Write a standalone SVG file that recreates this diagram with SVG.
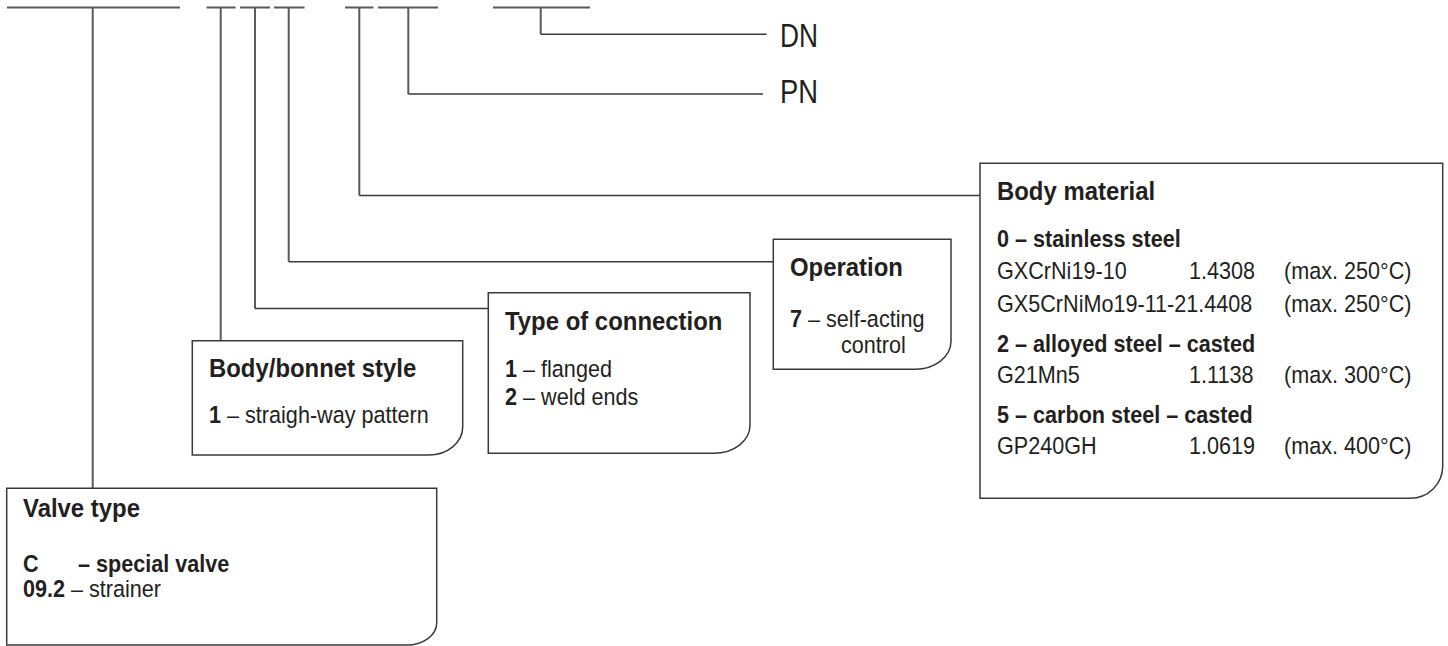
<svg xmlns="http://www.w3.org/2000/svg" width="1448" height="646" viewBox="0 0 1448 646">
<style>
.ln{fill:none;stroke:#5a5a5a;stroke-width:2}
.cn{fill:none;stroke:#3a3a3a;stroke-width:1.5}
.box{fill:#fff;stroke:#3a3a3a;stroke-width:1.5}
text{font-family:"Liberation Sans",Arial,sans-serif;fill:#231f20}
.t{font-size:26px;font-weight:bold}
.b{font-size:23.5px;font-weight:bold}
.r{font-size:23.5px}
.big{font-size:33px}
</style>
<rect width="1448" height="646" fill="#fff"/>
<g id="code-lines">
<path class="ln" d="M7 7.5H180M206.5 7.5H235.5M240 7.5H270M274 7.5H304.5M345 7.5H373.5M378 7.5H438M493 7.5H590"/>
</g>
<g id="connectors">
<path class="ln" d="M92.7 7.5V488.3"/>
<path class="ln" d="M220.7 7.5V340.7"/>
<path class="ln" d="M255 7.5V308.5"/>
<path class="cn" d="M255 308.5H488.3"/>
<path class="ln" d="M288.7 7.5V261.7"/>
<path class="cn" d="M288.7 261.7H773.3"/>
<path class="ln" d="M359.3 7.5V195.5"/>
<path class="cn" d="M359.3 195.5H980"/>
<path class="ln" d="M408.3 7.5V94"/>
<path class="cn" d="M408.3 94H763"/>
<path class="ln" d="M540.7 7.5V34.3"/>
<path class="cn" d="M540.7 34.3H766.5"/>
</g>
<g id="dn"><text class="big" x="780" y="47" textLength="38" lengthAdjust="spacingAndGlyphs">DN</text></g>
<g id="pn"><text class="big" x="780" y="103.3" textLength="38" lengthAdjust="spacingAndGlyphs">PN</text></g>
<g id="body-material">
<path class="box" d="M980 163.3H1442.7V466.3A32.7 32 0 0 1 1410 498.3H980Z"/>
<text class="t" transform="translate(997 200) scale(.92 1)">Body material</text>
<text class="b" transform="translate(997 247.3) scale(.92 1)">0 – stainless steel</text>
<text class="r" transform="translate(997 279.3) scale(.92 1)">GXCrNi19-10</text>
<text class="r" transform="translate(1189 279.3) scale(.92 1)">1.4308</text>
<text class="r" transform="translate(1284 279.3) scale(.92 1)">(max. 250°C)</text>
<text class="r" transform="translate(997 311.7) scale(.92 1)">GX5CrNiMo19-11-21.4408</text>
<text class="r" transform="translate(1284 311.7) scale(.92 1)">(max. 250°C)</text>
<text class="b" transform="translate(997 351.7) scale(.92 1)">2 – alloyed steel – casted</text>
<text class="r" transform="translate(997 383.3) scale(.92 1)">G21Mn5</text>
<text class="r" transform="translate(1189 383.3) scale(.92 1)">1.1138</text>
<text class="r" transform="translate(1284 383.3) scale(.92 1)">(max. 300°C)</text>
<text class="b" transform="translate(997 422.7) scale(.92 1)">5 – carbon steel – casted</text>
<text class="r" transform="translate(997 454.3) scale(.92 1)">GP240GH</text>
<text class="r" transform="translate(1189 454.3) scale(.92 1)">1.0619</text>
<text class="r" transform="translate(1284 454.3) scale(.92 1)">(max. 400°C)</text>
</g>
<g id="operation">
<path class="box" d="M773.3 239.3H951V341.3A36 28 0 0 1 915 369.3H773.3Z"/>
<text class="t" transform="translate(790 276) scale(.92 1)">Operation</text>
<text class="r" transform="translate(790 326.7) scale(.92 1)"><tspan font-weight="bold">7</tspan> – self-acting</text>
<text class="r" transform="translate(841 353.3) scale(.92 1)">control</text>
</g>
<g id="type-of-connection">
<path class="box" d="M488.3 292.7H750V425.3A36 28 0 0 1 714 453.3H488.3Z"/>
<text class="t" transform="translate(505 330) scale(.92 1)">Type of connection</text>
<text class="r" transform="translate(505 376.7) scale(.92 1)"><tspan font-weight="bold">1</tspan> – flanged</text>
<text class="r" transform="translate(505 405) scale(.92 1)"><tspan font-weight="bold">2</tspan> – weld ends</text>
</g>
<g id="body-bonnet-style">
<path class="box" d="M192.3 340.7H462.7V427A34 28 0 0 1 428.7 455H192.3Z"/>
<text class="t" transform="translate(209 376.7) scale(.92 1)">Body/bonnet style</text>
<text class="r" transform="translate(209 423.3) scale(.92 1)"><tspan font-weight="bold">1</tspan> – straigh-way pattern</text>
</g>
<g id="valve-type">
<path class="box" d="M6.7 488.3H436.7V623A30 22 0 0 1 406.7 645H6.7Z"/>
<text class="t" transform="translate(23 516.7) scale(.92 1)">Valve type</text>
<text class="b" transform="translate(23 571.7) scale(.92 1)">C</text>
<text class="b" transform="translate(78 571.7) scale(.92 1)">– special valve</text>
<text class="b" transform="translate(23 596.7) scale(.92 1)">09.2</text>
<text class="r" transform="translate(71 596.7) scale(.92 1)">– strainer</text>
</g>
</svg>
